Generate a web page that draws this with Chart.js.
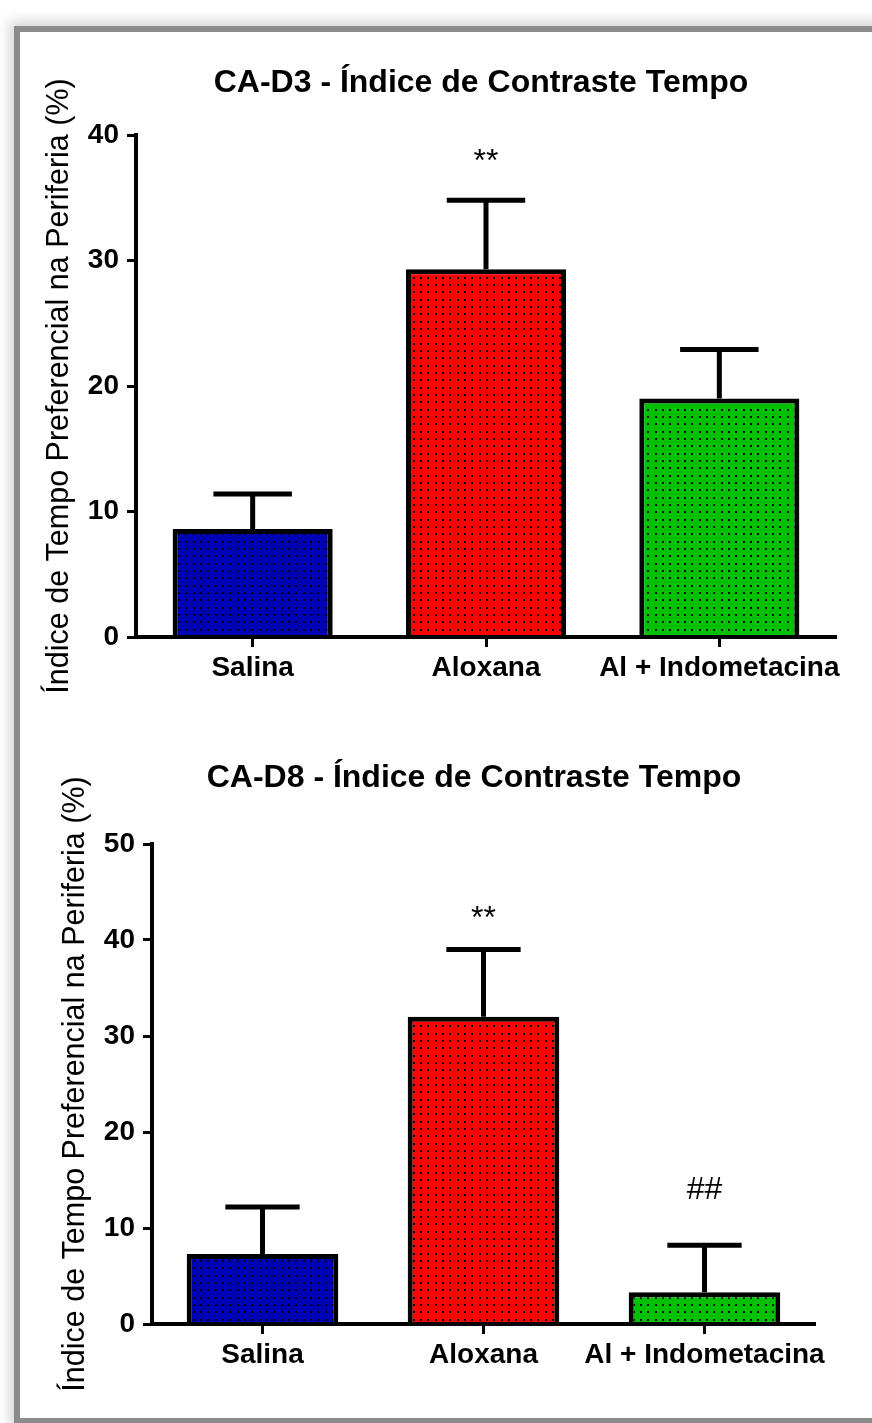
<!DOCTYPE html>
<html>
<head>
<meta charset="utf-8">
<script src="https://cdn.jsdelivr.net/npm/chart.js@4.4.1/dist/chart.umd.min.js"></script>
<style>
  html, body { margin: 0; padding: 0; background: #fff; width: 872px; height: 1423px; overflow: hidden; position: relative; }
  .frame {
    position: absolute; left: 14px; top: 26px; width: 900px; height: 1398px;
    box-sizing: border-box; border: 6px solid #8b8b8b; background: #fff;
    box-shadow: 0 0 12px 5px rgba(0, 0, 0, 0.16);
  }
  .panel { position: absolute; left: 0; width: 872px; height: 690px; }
  #p1 { top: 40px; }
  #p2 { top: 730px; }
</style>
</head>
<body>
<div class="frame"></div>
<div class="panel" id="p1"><canvas id="c1"></canvas></div>
<div class="panel" id="p2"><canvas id="c2"></canvas></div>
<script>
// Groups shown on both panels
const groups = ['Salina', 'Aloxana', 'Al + Indometacina'];

// CA-D3 panel: mean and SEM (%)
const d3Mean = [8.6, 29.3, 19.0];
const d3Sem = [2.8, 5.5, 3.9];
const d3Marks = ['', '**', ''];
const d3MarkLevel = [null, 37.8, null];
const d3Ticks = [0, 10, 20, 30, 40];

// CA-D8 panel: mean and SEM (%)
const d8Mean = [7.3, 32.0, 3.3];
const d8Sem = [4.9, 7.0, 4.9];
const d8Marks = ['', '**', '##'];
const d8MarkLevel = [null, 42.2, 13.9];
const d8Ticks = [0, 10, 20, 30, 40, 50];

const barColors = ['#0000b4', '#ff0000', '#00c000'];
const yTitle = 'Índice de Tempo Preferencial na Periferia (%)';
const FONT = '"Liberation Sans", Arial, Helvetica, sans-serif';

// Solid fill with a fine black dot grid
function dotted(base) {
  const t = document.createElement('canvas');
  t.width = t.height = 22;
  const g = t.getContext('2d');
  g.fillStyle = base;
  g.fillRect(0, 0, 22, 22);
  g.fillStyle = 'rgba(0,0,0,0.9)';
  for (const a of [2, 9, 17]) for (const b of [2, 9, 17]) g.fillRect(a, b, 2, 2);
  return g.createPattern(t, 'repeat');
}

// Upward SEM whiskers with caps, plus significance marks
function errorBars(mean, sem, marks, markLevel) {
  return {
    id: 'errorBars',
    afterDatasetsDraw(chart) {
      const { ctx } = chart;
      const y = chart.scales.y;
      const meta = chart.getDatasetMeta(0);
      ctx.save();
      ctx.strokeStyle = '#000';
      ctx.lineWidth = 5;
      ctx.lineCap = 'butt';
      meta.data.forEach((bar, i) => {
        const top = y.getPixelForValue(mean[i] + sem[i]);
        const half = bar.width * 0.49 / 2;
        ctx.beginPath();
        ctx.moveTo(bar.x, bar.y);
        ctx.lineTo(bar.x, top);
        ctx.moveTo(bar.x - half, top);
        ctx.lineTo(bar.x + half, top);
        ctx.stroke();
        if (marks[i]) {
          ctx.fillStyle = '#000';
          ctx.font = '32px ' + FONT;
          ctx.textAlign = 'center';
          ctx.textBaseline = 'middle';
          ctx.fillText(marks[i], bar.x, y.getPixelForValue(markLevel[i]));
        }
      });
      ctx.restore();
    }
  };
}

// Nudge the title block sideways after layout
function titleShift(dx) {
  return {
    id: 'titleShift',
    afterLayout(chart) {
      const t = chart.titleBlock;
      if (t) { t.left += dx; t.right += dx; }
    }
  };
}

function panel(id, p) {
  return new Chart(document.getElementById(id), {
    type: 'bar',
    data: {
      labels: groups,
      datasets: [{
        data: p.mean,
        backgroundColor: barColors.map(dotted),
        borderColor: '#000',
        borderWidth: 5,
        barPercentage: 0.686,
        categoryPercentage: 1
      }]
    },
    options: {
      responsive: true,
      maintainAspectRatio: false,
      animation: false,
      devicePixelRatio: 1,
      layout: { padding: { left: 0, right: p.padRight, top: 0, bottom: 0 } },
      plugins: {
        legend: { display: false },
        tooltip: { enabled: false },
        title: {
          display: true,
          text: p.title,
          fullSize: false,
          color: '#000',
          font: { family: FONT, size: 32, weight: 'bold', lineHeight: 1.2 },
          padding: p.titlePad
        }
      },
      scales: {
        x: {
          grid: { display: true, drawOnChartArea: false, drawTicks: true, tickLength: 10, tickWidth: 3, tickColor: '#000', offset: false },
          border: { display: true, color: '#000', width: 4, z: 1 },
          ticks: { color: '#000', font: { family: FONT, size: 28, weight: 'bold' }, padding: 4, maxRotation: 0, autoSkip: false },
          afterFit(s) { s.height = p.xHeight; }
        },
        y: {
          min: p.ticks[0],
          max: p.ticks[p.ticks.length - 1],
          afterBuildTicks(s) { s.ticks = p.ticks.map(v => ({ value: v })); },
          grid: { display: true, drawOnChartArea: false, drawTicks: true, tickLength: 9, tickWidth: 3, tickColor: '#000' },
          border: { display: true, color: '#000', width: 4, z: 1 },
          ticks: { color: '#000', font: { family: FONT, size: 28, weight: 'bold' }, padding: 8 },
          title: {
            display: true,
            text: yTitle,
            color: '#000',
            font: { family: FONT, size: 30.5, lineHeight: 1.2 },
            padding: { top: p.yTitlePad, bottom: 0 }
          },
          afterFit(s) { s.width = p.yWidth; }
        }
      }
    },
    plugins: [errorBars(p.mean, p.sem, p.marks, p.markLevel), titleShift(p.titleDx)]
  });
}

panel('c1', {
  mean: d3Mean, sem: d3Sem, marks: d3Marks, markLevel: d3MarkLevel, ticks: d3Ticks,
  title: 'CA-D3 - Índice de Contraste Tempo',
  titlePad: { top: 23.5, bottom: 33.1 }, titleDx: -5,
  yWidth: 136, yTitlePad: 41.5, padRight: 36, xHeight: 93
});

panel('c2', {
  mean: d8Mean, sem: d8Sem, marks: d8Marks, markLevel: d8MarkLevel, ticks: d8Ticks,
  title: 'CA-D8 - Índice de Contraste Tempo',
  titlePad: { top: 28.5, bottom: 47.1 }, titleDx: -9.5,
  yWidth: 152, yTitlePad: 57, padRight: 57, xHeight: 96
});
</script>
</body>
</html>
